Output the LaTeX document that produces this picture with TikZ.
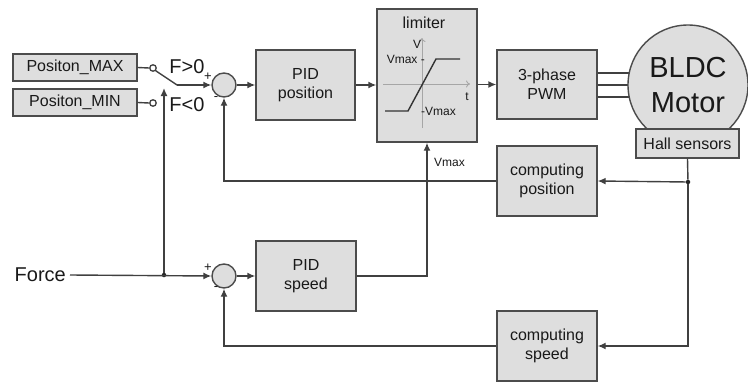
\documentclass[tikz,border=0pt]{standalone}
\usepackage{fontspec}
\setmainfont{Liberation Sans}
\usetikzlibrary{arrows.meta}

\begin{document}
\begin{tikzpicture}[x=1pt,y=-1pt,
        blok/.style={draw=black!70, fill=black!13, line width=1.4pt, inner sep=0pt, align=center, text=black!90, font=\fontsize{16}{19}\selectfont},
        summ/.style={circle, draw=black!70, fill=black!13, line width=1.4pt, minimum size=24pt, inner sep=0pt},
        contact/.style={circle, draw=black!75, fill=white, line width=1.3pt, minimum size=6.5pt, inner sep=0pt},
        joint/.style={circle, fill=black!85, minimum size=4.5pt, inner sep=0pt},
        wire/.style={draw=black!75, line width=1.4pt},
        sig/.style={wire, -{Latex[length=8pt,width=7pt]}},
        axis/.style={draw=black!35, line width=0.9pt, -{To[length=4pt,width=7pt]}},
        lbl/.style={inner sep=0pt, text=black!90, font=\fontsize{#1}{#1}\selectfont},
        lbl/.default=12]
            \useasboundingbox (0,0) rectangle (748,383);
            \node[blok, minimum width=124pt, minimum height=27pt] (posmax) at (75,67.5) {Positon\_MAX};
            \node[blok, minimum width=124pt, minimum height=27pt] (posmin) at (75,102.5) {Positon\_MIN};
            \node[contact] (cmax) at (153,68) {};
            \node[contact] (cmin) at (153,103) {};
            \coordinate (lever) at (177,85);
            \coordinate (swtip) at (164,88);
            \node[lbl=20] (fpos) at (187,67) {F>0};
            \node[lbl=20] (fneg) at (187,105) {F<0};
            \node[summ] (sum1) at (224,85) {};
            \node[lbl=13] at (208,77) {+};
            \node[lbl=13] at (216,99) {-};
            \node[blok, minimum width=99pt, minimum height=70pt] (pidpos) at (305.5,85) {PID\\position};
            \node[blok, minimum width=100pt, minimum height=133pt] (lim) at (427,75.5) {};
            \node[lbl=16] (limtxt) at (424,23) {limiter};
            \draw[axis] (422,128) -- (422,38);
            \draw[axis] (383,84) -- (470,84);
            \draw[draw=black!80, line width=1.4pt] (385,111) -- (408,111) -- (436,59) -- (460,59);
            \node[lbl] at (417,44) {V};
            \node[lbl] at (467,97) {t};
            \node[lbl, anchor=east] at (425,59) {Vmax -};
            \node[lbl, anchor=west] at (421,111) {-Vmax};
            \node[blok, minimum width=100pt, minimum height=69pt] (pwm) at (547,84.5) {3-phase\\PWM};
            \foreach \yy in {73,85,97}
                \draw[wire] (pwm.east |- 0,\yy) -- (640,\yy);
            \node[circle, draw=black!70, fill=black!13, line width=1.4pt, minimum size=120pt, inner sep=0pt, align=center, text=black!90, font=\fontsize{29}{35}\selectfont] (motor) at (688,85) {BLDC\\Motor};
            \node[blok, minimum width=103pt, minimum height=29pt] (hall) at (687.5,143.5) {Hall sensors};
            \node[blok, minimum width=100pt, minimum height=70pt] (comppos) at (547,181) {computing\\position};
            \node[joint] (hdot) at (688,182) {};
            \node[lbl=20, anchor=east, inner sep=4pt] (force) at (70,275) {Force};
            \node[joint] (fdot) at (164,275) {};
            \node[summ] (sum2) at (224,276) {};
            \node[lbl=13] at (208,268) {+};
            \node[lbl=13] at (216,289) {-};
            \node[blok, minimum width=100pt, minimum height=70pt] (pidspd) at (306,276) {PID\\speed};
            \node[blok, minimum width=100pt, minimum height=70pt] (compspd) at (547,346) {computing\\speed};
            \node[lbl, anchor=west] (vmaxin) at (434,162) {Vmax};
            \draw[wire] (posmax.east) -- (cmax.west);
            \draw[wire] (posmin.east) -- (cmin.west);
            \draw[wire] (cmax.south east) -- (lever);
            \draw[sig] (lever) -- (sum1.west);
            \draw[sig] (fdot) -- (swtip);
            \draw[sig] (force.east) -- (sum2.west);
            \draw[sig] (sum1.east) -- (pidpos.west);
            \draw[sig] (pidpos.east) -- (pidpos.east -| lim.west);
            \draw[sig] (pwm.west -| lim.east) -- (pwm.west);
            \draw[sig] (sum2.east) -- (pidspd.west);
            \draw[sig] (pidspd.east) -| (lim.south);
            \draw[wire] (hall.south) -- (hdot);
            \draw[sig] (hdot) -- (comppos.east);
            \draw[sig] (hdot) |- (compspd.east);
            \draw[sig] (comppos.west) -| (sum1.south);
            \draw[sig] (compspd.west) -| (sum2.south);
\end{tikzpicture}
\end{document}
